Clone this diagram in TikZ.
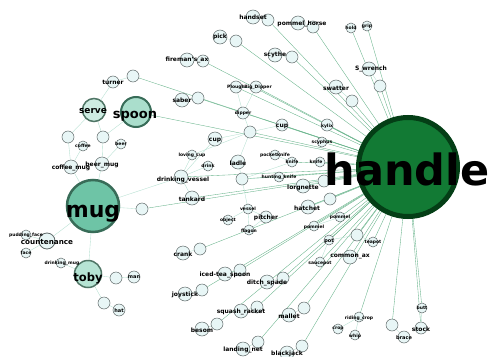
\documentclass[tikz,border=0pt]{standalone}
\usepackage{fontspec}
\setmainfont{DejaVu Sans}
\pgfdeclarelayer{bg}
\pgfsetlayers{bg,main}
\definecolor{hubedge}{RGB}{100,178,136}
\definecolor{leafedge}{RGB}{180,224,208}
\definecolor{nodefill}{RGB}{232,246,246}
\definecolor{nodeline}{RGB}{95,105,105}
\definecolor{handlefill}{RGB}{18,122,52}
\definecolor{handleline}{RGB}{4,62,22}
\definecolor{mugfill}{RGB}{110,196,166}
\definecolor{mugline}{RGB}{56,108,88}
\definecolor{spoonfill}{RGB}{170,222,204}
\definecolor{tobyfill}{RGB}{182,228,212}
\definecolor{servefill}{RGB}{206,236,226}
\definecolor{midline}{RGB}{80,118,102}
\begin{document}
\begin{tikzpicture}[x=1pt,y=-1pt,
  sn/.style={circle,draw=nodeline,fill=nodefill,line width=0.5pt,minimum size=12pt,inner sep=0pt},
  snA/.style={sn,minimum size=14pt},
  snB/.style={sn,minimum size=10pt},
  lt/.style={font=\bfseries\fontsize{4.5}{5}\selectfont,inner sep=0pt},
  lm/.style={font=\bfseries\fontsize{6}{7}\selectfont,inner sep=0pt},
  hub/.style={draw=hubedge,line width=0.35pt},
  leaf/.style={draw=leafedge,line width=0.35pt},
  big/.style={circle,inner sep=0pt}]
\useasboundingbox (0,0) rectangle (492,356);

% hub word
\node[big,draw=handleline,fill=handlefill,line width=5pt,minimum size=99pt] (handle) at (408,167) {};
% mug cluster
\node[big,draw=mugline,fill=mugfill,line width=2.5pt,minimum size=52pt] (mug) at (93,206) {};
\node[big,draw=mugline,fill=spoonfill,line width=2pt,minimum size=30pt] (spoon) at (136,112) {};
\node[big,draw=midline,fill=servefill,line width=1.5pt,minimum size=23pt] (serve) at (94,110) {};
\node[big,draw=midline,fill=tobyfill,line width=1.5pt,minimum size=27pt] (toby) at (88,274) {};
\node[big,draw=nodeline,fill=nodefill,line width=0.8pt,minimum size=16pt] (countenance) at (47,241) {};
\node[sn] (u26) at (68,137) {};
\node[sn] (u27) at (103,137) {};
\node[snB] (coffee) at (83,146) {};
\node[snB] (beer) at (121,144) {};
\node[snA] (coffeemug) at (71,167) {};
\node[snA] (beermug) at (102,164) {};
\node[snB] (puddingface) at (26,235) {};
\node[snB] (face) at (26,253) {};
\node[snB] (drinkingmug) at (61,263) {};
\node[sn] (u28) at (116,278) {};
\node[sn] (man) at (134,277) {};
\node[sn] (u29) at (104,303) {};
\node[sn] (hat) at (119,310) {};

% upper fan
\node[snA] (handset) at (253,17) {};
\node[sn] (u1) at (268,20) {};
\node[snA] (pommelhorse) at (298,23) {};
\node[sn] (u2) at (313,27) {};
\node[snA] (pick) at (220,37) {};
\node[sn] (u3) at (236,41) {};
\node[snA] (scythe) at (275,55) {};
\node[sn] (u4) at (292,57) {};
\node[snA] (fireman) at (187,60) {};
\node[sn] (u5) at (203,61) {};
\node[snB] (hold) at (351,28) {};
\node[snB] (grip) at (367,26) {};
\node[snA] (swrench) at (369,69) {};
\node[sn] (u6) at (380,86) {};
\node[snA] (swatter) at (336,87) {};
\node[sn] (u7) at (352,101) {};
\node[sn] (turner) at (113,82) {};
\node[sn] (u8) at (133,76) {};
\node[sn] (plough) at (236,87) {};
\node[sn] (bigdipper) at (256,87) {};
\node[snA] (saber) at (182,100) {};
\node[sn] (u9) at (198,98) {};
\node[sn] (dipper) at (243,113) {};
\node[sn] (cupA) at (282,125) {};
\node[sn] (kylix) at (327,125) {};
\node[sn] (u10) at (250,132) {};
\node[snA] (cupB) at (215,139) {};
\node[snB] (scyphus) at (322,142) {};
\node[snB] (lovingcup) at (192,155) {};
\node[snB] (drink) at (208,166) {};
\node[snA] (ladle) at (238,162) {};
\node[snB] (pocketknife) at (275,155) {};
\node[snB] (knifeA) at (292,162) {};
\node[snB] (knifeB) at (320,162) {};
\node[sn] (u11) at (242,179) {};
\node[snB] (huntingknife) at (279,177) {};
\node[snA] (drinkingvessel) at (181,177) {};
\node[snA] (lorgnette) at (303,186) {};
\node[sn] (u12) at (324,181) {};
\node[snA] (tankard) at (192,198) {};
\node[sn] (u13) at (142,209) {};
\node[snB] (vessel) at (248,209) {};
\node[snA] (hatchet) at (308,207) {};
\node[sn] (u14) at (330,199) {};
\node[snB] (object) at (228,220) {};
\node[sn] (pitcher) at (266,217) {};
\node[snB] (pommelA) at (340,217) {};
\node[snB] (pommelB) at (314,226) {};
\node[snB] (flagon) at (249,230) {};
\node[snB] (pot) at (329,240) {};
\node[sn] (u15) at (357,235) {};
\node[snB] (teapot) at (373,242) {};
\node[snA] (commonax) at (350,257) {};
\node[snB] (saucepot) at (320,262) {};

% lower fan
\node[sn] (u16) at (200,249) {};
\node[snA] (crank) at (183,253) {};
\node[sn] (u17) at (240,270) {};
\node[snA] (iced) at (225,274) {};
\node[sn] (u18) at (283,278) {};
\node[snA] (ditch) at (267,282) {};
\node[sn] (u19) at (202,290) {};
\node[snA] (joystick) at (185,294) {};
\node[sn] (u20) at (257,307) {};
\node[snA] (squash) at (241,311) {};
\node[sn] (u21) at (304,308) {};
\node[snA] (mallet) at (289,315) {};
\node[sn] (u22) at (217,324) {};
\node[snA] (besom) at (202,329) {};
\node[sn] (u23) at (258,342) {};
\node[snA] (landing) at (243,349) {};
\node[sn] (u24) at (302,346) {};
\node[snA] (blackjack) at (287,353) {};
\node[snB] (ridingcrop) at (359,317) {};
\node[snB] (crop) at (338,329) {};
\node[snB] (whip) at (355,335) {};
\node[sn] (u25) at (392,325) {};
\node[snB] (butt) at (422,308) {};
\node[sn] (stock) at (421,328) {};
\node[sn] (brace) at (404,337) {};

\begin{pgfonlayer}{bg}
  \fill[white] (0,0) rectangle (492,356);
  % spokes into the hub
  \foreach \n in {u1,u2,u3,u4,u5,hold,grip,u6,u7,u8,u9,plough,bigdipper,spoon,
                  cupA,kylix,u10,scyphus,knifeA,knifeB,u11,u12,u13,u14,pommelA,
                  pommelB,u15,teapot,commonax,saucepot,pot,u16,u17,u18,u19,u20,
                  u21,u22,u23,u24,ridingcrop,u25,butt,stock,drinkingvessel,
                  tankard,huntingknife,lorgnette,hatchet}
    \draw[hub] (\n) -- (handle);
  % lemma links
  \foreach \a/\b in {handset/u1,pommelhorse/u2,pick/u3,scythe/u4,fireman/u5,
                     swrench/u6,swatter/u7,turner/u8,saber/u9,plough/bigdipper,
                     plough/dipper,bigdipper/dipper,dipper/u10,cupA/u10,cupB/u10,
                     ladle/u10,lovingcup/u10,cupB/drinkingvessel,
                     lovingcup/drinkingvessel,drink/drinkingvessel,
                     tankard/drinkingvessel,drinkingvessel/mug,pocketknife/knifeA,
                     knifeA/u11,huntingknife/u11,ladle/u11,vessel/u11,vessel/object,
                     vessel/pitcher,pitcher/flagon,vessel/flagon,lorgnette/u12,
                     hatchet/u14,pommelA/pommelB,pot/saucepot,pot/u15,teapot/u15,
                     crank/u16,iced/u17,ditch/u18,joystick/u19,squash/u20,
                     mallet/u21,besom/u22,landing/u23,blackjack/u24,
                     ridingcrop/crop,ridingcrop/whip,butt/stock,brace/u25,
                     mug/u13,mug/coffeemug,mug/beermug,mug/toby,mug/countenance,
                     serve/u26,serve/u27,spoon/u27,turner/serve,coffeemug/u26,
                     coffeemug/coffee,beermug/u27,beermug/beer,
                     countenance/puddingface,countenance/face,toby/drinkingmug,
                     toby/u28,u28/man,toby/u29,u29/hat}
    \draw[leaf] (\a) -- (\b);
\end{pgfonlayer}

% large word labels
\node[inner sep=0pt,anchor=base,font=\bfseries\fontsize{43}{43}\selectfont] (t-handle) at (407,185) {handle};
\node[inner sep=0pt,anchor=base,font=\bfseries\fontsize{22}{22}\selectfont] (t-mug) at (93,217) {mug};
\node[inner sep=0pt,anchor=base,font=\bfseries\fontsize{13}{13}\selectfont] (t-spoon) at (135,118) {spoon};
\node[inner sep=0pt,anchor=base,font=\bfseries\fontsize{9}{9}\selectfont] (t-serve) at (93,113) {serve};
\node[inner sep=0pt,anchor=base,font=\bfseries\fontsize{11.5}{12}\selectfont] (t-toby) at (88,281) {toby};
\node[inner sep=0pt,anchor=base,font=\bfseries\fontsize{7.2}{8}\selectfont] (t-countenance) at (47,244) {countenance};

% medium labels
\node[lm] (t-handset) at (253,17) {handset};
\node[lm] (t-pommelhorse) at (302,24) {pommel\_horse};
\node[lm] (t-pick) at (220,37) {pick};
\node[lm] (t-scythe) at (275,55) {scythe};
\node[lm] (t-fireman) at (187,60) {fireman's\_ax};
\node[lm] (t-swrench) at (371,69) {S\_wrench};
\node[lm] (t-swatter) at (336,88) {swatter};
\node[lm] (t-turner) at (113,82) {turner};
\node[lm] (t-saber) at (182,100) {saber};
\node[lm] (t-cupA) at (282,126) {cup};
\node[lm] (t-cupB) at (215,140) {cup};
\node[lm] (t-ladle) at (238,163) {ladle};
\node[lm] (t-drinkingvessel) at (183,180) {drinking\_vessel};
\node[lm] (t-lorgnette) at (303,188) {lorgnette};
\node[lm] (t-tankard) at (192,199) {tankard};
\node[lm] (t-hatchet) at (307,208) {hatchet};
\node[lm] (t-pitcher) at (266,218) {pitcher};
\node[lm] (t-commonax) at (350,257) {common\_ax};
\node[lm] (t-crank) at (183,254) {crank};
\node[lm] (t-iced) at (225,275) {iced-tea\_spoon};
\node[lm] (t-ditch) at (267,283) {ditch\_spade};
\node[lm] (t-joystick) at (185,295) {joystick};
\node[lm] (t-squash) at (241,312) {squash\_racket};
\node[lm] (t-mallet) at (289,316) {mallet};
\node[lm] (t-besom) at (202,330) {besom};
\node[lm] (t-landing) at (243,350) {landing\_net};
\node[lm] (t-blackjack) at (287,354) {blackjack};
\node[lm] (t-stock) at (421,329) {stock};
\node[lm] (t-coffeemug) at (71,168) {coffee\_mug};
\node[lm] (t-beermug) at (102,165) {beer\_mug};

% small labels
\node[lt] (t-hold) at (351,28) {hold};
\node[lt] (t-grip) at (367,26) {grip};
\node[lt] (t-plough) at (236,87) {Plough};
\node[lt] (t-bigdipper) at (258,87) {Big\_Dipper};
\node[lt] (t-dipper) at (243,113) {dipper};
\node[lt] (t-kylix) at (327,126) {kylix};
\node[lt] (t-scyphus) at (322,142) {scyphus};
\node[lt] (t-lovingcup) at (192,155) {loving\_cup};
\node[lt] (t-drink) at (208,166) {drink};
\node[lt] (t-pocketknife) at (275,155) {pocketknife};
\node[lt] (t-knifeA) at (292,162) {knife};
\node[lt] (t-knifeB) at (316,162) {knife};
\node[lt] (t-huntingknife) at (279,177) {hunting\_knife};
\node[lt] (t-vessel) at (248,209) {vessel};
\node[lt] (t-object) at (228,220) {object};
\node[lt] (t-pommelA) at (340,217) {pommel};
\node[lt] (t-pommelB) at (314,227) {pommel};
\node[lt] (t-flagon) at (249,231) {flagon};
\node[font=\bfseries\fontsize{5}{6}\selectfont,inner sep=0pt] (t-pot) at (329,241) {pot};
\node[lt] (t-teapot) at (373,242) {teapot};
\node[lt] (t-saucepot) at (320,263) {saucepot};
\node[lt] (t-ridingcrop) at (359,318) {riding\_crop};
\node[lt] (t-crop) at (338,329) {crop};
\node[lt] (t-whip) at (355,336) {whip};
\node[lt] (t-butt) at (422,308) {butt};
\node[font=\bfseries\fontsize{5}{6}\selectfont,inner sep=0pt] (t-brace) at (404,338) {brace};
\node[lt] (t-coffee) at (83,146) {coffee};
\node[lt] (t-beer) at (121,144) {beer};
\node[lt] (t-puddingface) at (26,235) {pudding\_face};
\node[lt] (t-face) at (26,253) {face};
\node[lt] (t-drinkingmug) at (62,263) {drinking\_mug};
\node[font=\bfseries\fontsize{5}{6}\selectfont,inner sep=0pt] (t-man) at (134,277) {man};
\node[font=\bfseries\fontsize{5}{6}\selectfont,inner sep=0pt] (t-hat) at (119,311) {hat};
\end{tikzpicture}
\end{document}
